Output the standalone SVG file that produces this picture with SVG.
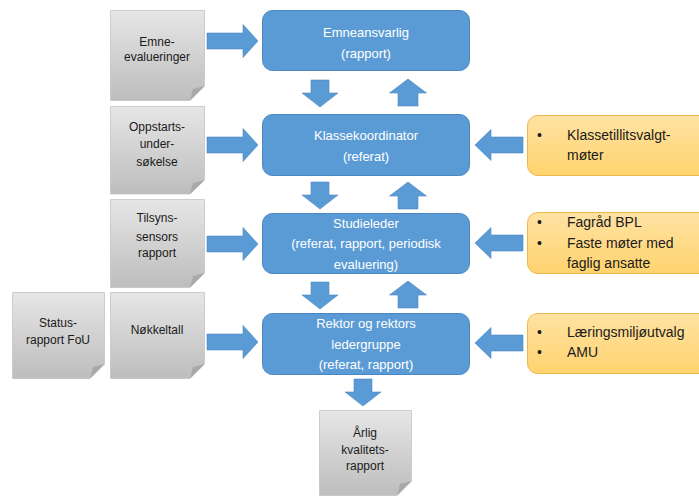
<svg xmlns="http://www.w3.org/2000/svg" width="699" height="496" viewBox="0 0 699 496">
<defs>
<linearGradient id="gGrey" x1="0" y1="0" x2="0" y2="1">
<stop offset="0" stop-color="#E6E6E6"/>
<stop offset="1" stop-color="#BDBDBD"/>
</linearGradient>
<linearGradient id="gYel" x1="0" y1="0" x2="0" y2="1">
<stop offset="0" stop-color="#FFE2A3"/>
<stop offset="1" stop-color="#FFD36E"/>
</linearGradient>
<path id="arrR" d="M0,-8 H36 V-16.5 L51,0 L36,16.5 V8 H0 Z"/>
<path id="arrL" d="M0,0 L16,-15.5 V-8 H48 V8 H16 V15.5 Z"/>
<path id="arrD" d="M-9,0 H9 V13 H18 L0,27 L-18,13 H-9 Z"/>
<path id="arrU" d="M0,0 L18.5,14 H10 V27 H-10 V14 H-18.5 Z"/>
</defs>
<style>
.blue{fill:#5B9BD5;stroke:#4A86C0;stroke-width:1}
.arr{fill:#5B9BD5;stroke:#4A86C0;stroke-width:0.6}
.doc{fill:url(#gGrey);stroke:#C4C4C4;stroke-width:0.8}
.fold{fill:#A9A9A9}
.yel{fill:url(#gYel);stroke:#F0B84A;stroke-width:1}
.tb{font-family:"Liberation Sans",Arial,sans-serif;font-size:13px;fill:#FFFFFF;text-anchor:middle}
.tg{font-family:"Liberation Sans",Arial,sans-serif;font-size:12px;fill:#1A1A1A;text-anchor:middle}
.ty{font-family:"Liberation Sans",Arial,sans-serif;font-size:14px;fill:#1A1A1A}
</style>
<rect width="699" height="496" fill="#FFFFFF"/>

<g id="connectors">
<use href="#arrR" x="207" y="41" class="arr"/>
<use href="#arrR" x="207" y="145" class="arr"/>
<use href="#arrR" x="207" y="244" class="arr"/>
<use href="#arrR" x="207" y="342" class="arr"/>
<use href="#arrL" x="475" y="145" class="arr"/>
<use href="#arrL" x="475" y="243" class="arr"/>
<use href="#arrL" x="475" y="343" class="arr"/>
<use href="#arrD" x="320" y="80" class="arr"/>
<use href="#arrU" x="408" y="79" class="arr"/>
<use href="#arrD" x="320" y="182" class="arr"/>
<use href="#arrU" x="408" y="182" class="arr"/>
<use href="#arrD" x="320" y="282" class="arr"/>
<use href="#arrU" x="408" y="281" class="arr"/>
<use href="#arrD" x="363" y="379" class="arr"/>
</g>

<g id="emneevalueringer">
<path class="doc" d="M110.5,10.5 H204.5 V86 L190,100.5 H110.5 Z"/>
<path class="fold" d="M204.5,86 L190,100.5 L193,89 Z"/>
<text class="tg" x="157" y="46">Emne-</text>
<text class="tg" x="157" y="61">evalueringer</text>
</g>

<g id="oppstartsundersokelse">
<path class="doc" d="M110.5,106.5 H204.5 V180 L190,194 H110.5 Z"/>
<path class="fold" d="M204.5,180 L190,194 L193,183 Z"/>
<text class="tg" x="157" y="131">Oppstarts-</text>
<text class="tg" x="157" y="148">under-</text>
<text class="tg" x="157" y="166">søkelse</text>
</g>

<g id="tilsynssensors">
<path class="doc" d="M110.5,199.5 H204.5 V273 L190,287.5 H110.5 Z"/>
<path class="fold" d="M204.5,273 L190,287.5 L193,276 Z"/>
<text class="tg" x="157" y="222">Tilsyns-</text>
<text class="tg" x="157" y="241">sensors</text>
<text class="tg" x="157" y="257">rapport</text>
</g>

<g id="nokkeltall">
<path class="doc" d="M110.5,292.5 H204.5 V364 L190,378.5 H110.5 Z"/>
<path class="fold" d="M204.5,364 L190,378.5 L193,367 Z"/>
<text class="tg" x="157" y="334">Nøkkeltall</text>
</g>

<g id="statusrapport">
<path class="doc" d="M12.5,292.5 H104.5 V364 L90,378.5 H12.5 Z"/>
<path class="fold" d="M104.5,364 L90,378.5 L93,367 Z"/>
<text class="tg" x="58" y="327">Status-</text>
<text class="tg" x="58" y="344">rapport  FoU</text>
</g>

<g id="arligkvalitetsrapport">
<path class="doc" d="M319.5,410.5 H411.5 V481 L397,495.5 H319.5 Z"/>
<path class="fold" d="M411.5,481 L397,495.5 L400,484 Z"/>
<text class="tg" x="365" y="437">Årlig</text>
<text class="tg" x="365" y="454">kvalitets-</text>
<text class="tg" x="365" y="470">rapport</text>
</g>

<g id="emneansvarlig">
<rect class="blue" x="262.5" y="10.5" width="207" height="60" rx="10"/>
<text class="tb" x="366" y="37">Emneansvarlig</text>
<text class="tb" x="366" y="58">(rapport)</text>
</g>

<g id="klassekoordinator">
<rect class="blue" x="262.5" y="114.5" width="207" height="61" rx="10"/>
<text class="tb" x="366" y="140">Klassekoordinator</text>
<text class="tb" x="366" y="161">(referat)</text>
</g>

<g id="studieleder">
<rect class="blue" x="262.5" y="213.5" width="207" height="60" rx="10"/>
<text class="tb" x="366" y="228">Studieleder</text>
<text class="tb" x="366" y="248">(referat, rapport, periodisk</text>
<text class="tb" x="366" y="269">evaluering)</text>
</g>

<g id="rektor">
<rect class="blue" x="262.5" y="313.5" width="207" height="61" rx="10"/>
<text class="tb" x="366" y="328">Rektor og rektors</text>
<text class="tb" x="366" y="349">ledergruppe</text>
<text class="tb" x="366" y="369">(referat, rapport)</text>
</g>

<g id="klassetillitsvalgt">
<rect class="yel" x="527.5" y="115.5" width="200" height="60" rx="10"/>
<text class="ty" x="537" y="140">•</text>
<text class="ty" x="567" y="140">Klassetillitsvalgt-</text>
<text class="ty" x="567" y="160">møter</text>
</g>

<g id="fagrad">
<rect class="yel" x="527.5" y="212.5" width="200" height="61" rx="10"/>
<text class="ty" x="537" y="227">•</text>
<text class="ty" x="567" y="227">Fagråd BPL</text>
<text class="ty" x="537" y="248">•</text>
<text class="ty" x="567" y="248">Faste møter med</text>
<text class="ty" x="567" y="268">faglig ansatte</text>
</g>

<g id="laeringsmiljo">
<rect class="yel" x="527.5" y="313.5" width="200" height="60" rx="10"/>
<text class="ty" x="537" y="337">•</text>
<text class="ty" x="567" y="337">Læringsmiljøutvalg</text>
<text class="ty" x="537" y="357">•</text>
<text class="ty" x="567" y="357">AMU</text>
</g>
</svg>
